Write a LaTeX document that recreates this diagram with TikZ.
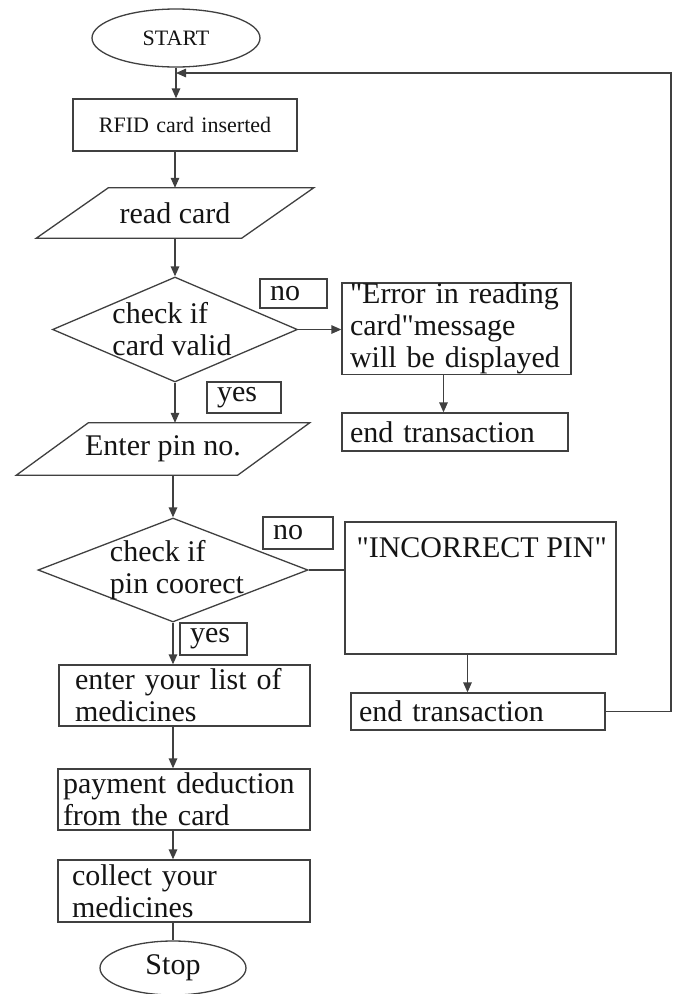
\documentclass[tikz,border=0pt]{standalone}
\usepackage{fontspec}
\setmainfont{Liberation Serif}[Ligatures=TeXOff]
\usetikzlibrary{arrows.meta}
\usetikzlibrary{shapes.geometric}
\colorlet{linec}{black!75}
\colorlet{txtc}{black!92}
\newcommand\bigtxt{\fontsize{30}{32}\selectfont}
\newcommand\smalltxt{\fontsize{22}{24}\selectfont}

\begin{document}
\begin{tikzpicture}[x=1pt, y=-1pt,
  box/.style={draw=linec, line width=1.3pt, text=txtc, align=left, inner xsep=8pt, inner ysep=0pt},
  term/.style={ellipse, draw=linec, line width=1.3pt, text=txtc, inner sep=0pt},
  io/.style={rectangle, text=txtc, inner sep=0pt},
  decide/.style={diamond, draw=linec, line width=1.3pt, inner sep=0pt},
  tag/.style={box, inner xsep=10pt},
  arr/.style={draw=linec, line width=1.3pt, -{Triangle[length=10pt, width=8.5pt]}},
  conn/.style={draw=linec, line width=1.3pt},
  font=\bigtxt]
  \useasboundingbox[fill=white] (0,0) rectangle (676,994);

  % main column
  \node[term, font=\smalltxt, minimum width=168pt, minimum height=58pt] (start) at (176,38) {START};
  \node[box, font=\smalltxt, align=center, text width=208pt, minimum height=52pt] (rfid) at (185,125) {RFID card inserted};
  \node[io, minimum width=205pt, minimum height=50pt] (read) at (175,213) {read card};
  \node[decide, minimum width=245pt, minimum height=105pt,
    label={[align=left, text=txtc, xshift=-3pt]center:check if\\card valid}] (valid) at (175,329.5) {};
  \node[tag, text width=47pt, minimum height=29pt] (noA) at (293.5,293.5) {no};
  \node[tag, text width=54pt, minimum height=31pt] (yesA) at (244,397.5) {yes};
  \node[io, minimum width=221pt, minimum height=52pt] (pinin) at (163,449) {Enter pin no.};
  \node[decide, minimum width=270pt, minimum height=104pt,
    label={[align=left, text=txtc, xshift=4pt]center:check if\\pin coorect}] (pin) at (173,570) {};
  \node[tag, text width=50pt, minimum height=32pt] (noB) at (298,533) {no};
  \node[tag, text width=47pt, minimum height=32pt] (yesB) at (213.5,639) {yes};
  \node[box, inner xsep=16pt, text width=219pt, minimum height=61pt] (list) at (184.5,695.5) {enter your list of\\medicines};
  \node[box, inner xsep=5pt, text width=242pt, minimum height=61pt] (pay) at (184,799.5) {payment deduction\\from the card};
  \node[box, inner xsep=14pt, text width=224pt, minimum height=62pt] (collect) at (184,891) {collect your\\medicines};
  \node[term, minimum width=146pt, minimum height=54pt] (stop) at (173,968) {Stop};

  % slanted input boxes
  \foreach \n in {read,pinin}
    \draw[conn] ([xshift=-36pt]\n.south west) -- ([xshift=36pt]\n.north west)
      -- ([xshift=36pt]\n.north east) -- ([xshift=-36pt]\n.south east) -- cycle;

  % right side
  \node[box, text width=213pt, minimum height=91pt] (err) at (456.5,328.5) {"Error in reading\\card"message\\will be displayed};
  \node[box, text width=210pt, minimum height=38pt] (endA) at (455,432) {end transaction};
  \node[box, minimum width=271pt, minimum height=132pt,
    label={[anchor=north west, inner sep=0pt, text=txtc, xshift=12pt, yshift=-16pt]north west:"INCORRECT PIN"}] (incor) at (480.5,588) {};
  \node[box, text width=238pt, minimum height=37pt] (endB) at (478,711.5) {end transaction};

  \coordinate (back) at (671,73);
  \coordinate (join) at (176,73);

  \draw[arr] (start) -- (start |- rfid.north);
  \draw[arr] (rfid.south -| read.north) -- (read.north);
  \draw[arr] (read.south) -- (valid.north);
  \draw[arr] (valid.east) -- (err.west |- valid.east);
  \draw[arr] ([xshift=-13pt]err.south) -- ([xshift=-13pt]err.south |- endA.north);
  \draw[arr] (valid.south) -- (valid.south |- pinin.north);
  \draw[arr] (pinin.south -| pin.north) -- (pin.north);
  \draw[conn] (pin.east) -- (pin.east -| incor.west);
  \draw[arr] ([xshift=-13pt]incor.south) -- ([xshift=-13pt]incor.south |- endB.north);
  \draw[arr] (endB.east) -| (back) -- (join);
  \draw[arr] (pin.south) -- (pin.south |- list.north);
  \draw[arr] (list.south -| pin.south) -- (pay.north -| pin.south);
  \draw[arr] (pay.south -| pin.south) -- (collect.north -| pin.south);
  \draw[conn] (collect.south -| stop.north) -- (stop.north);
\end{tikzpicture}
\end{document}
